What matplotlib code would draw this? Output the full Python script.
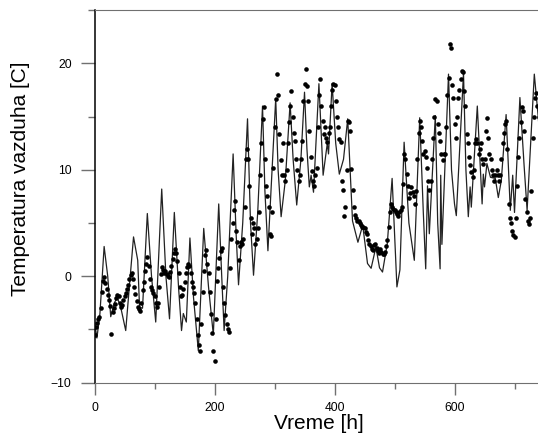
import numpy as np
import matplotlib
matplotlib.use("Agg")
import matplotlib.pyplot as plt
from matplotlib.ticker import MultipleLocator

plt.rcParams['font.family'] = ['Liberation Sans', 'DejaVu Sans']

# model curve (hour, temperature) read at turning points
line_hours = [0, 4, 9, 16, 22, 27, 33, 38, 44, 52, 58, 65, 72, 75, 80, 88, 95, 102,
              112, 119, 125, 133, 140, 145, 148, 153, 159, 165, 173, 182, 190, 198,
              207, 212, 216, 222, 231, 236, 240, 247, 255, 260, 265, 272, 280, 284,
              289, 295, 302, 306, 311, 318, 326, 331, 337, 344, 350, 354, 358, 361,
              365, 374, 379, 381, 388, 390, 396, 402, 408, 415, 422, 430, 439, 447,
              455, 461, 469, 475, 480, 488, 496, 504, 509, 516, 524, 533, 542, 548,
              552, 555, 558, 568, 572, 576, 577, 579, 590, 595, 600, 603, 615, 619,
              623, 626, 628, 638, 646, 648, 650, 654, 660, 668, 673, 678, 686, 693,
              697, 700, 709, 716, 721, 733, 739, 744]
line_temp = [-4.3, -5.8, -3.5, 2.8, 0.0, -3.8, -2.5, -2.0, -3.0, -5.1, -1.0, 3.7, 1.5, -2.9,
             -3.0, 5.9, 0.0, -4.3, 8.2, 0.0, -4.0, 6.0, -1.0, -5.1, -3.5, -4.3, 3.6, -2.0,
             -7.0, 4.5, -1.0, -5.5, 6.8, 0.0, -5.1, 0.0, 11.5, 4.0, -0.8, 5.0, 14.8, 5.0,
             0.1, 6.0, 16.0, 8.0, 2.4, 9.0, 16.7, 10.0, 5.6, 9.0, 16.3, 11.0, 6.7, 11.0,
             17.3, 12.0, 8.4, 9.5, 7.9, 18.1, 12.0, 9.5, 12.5, 11.5, 18.1, 12.5, 9.6,
             11.0, 14.8, 5.2, 3.2, 4.8, 1.2, 0.75, 2.75, 0.8, 0.4, 3.1, 9.2, -1.0, 0.6,
             12.6, 5.0, 1.5, 14.9, 6.0, 0.7, 8.5, 4.0, 15.1, 5.0, 0.7, 9.5, 3.0, 19.0,
             10.0, 6.8, 5.7, 19.1, 10.0, 5.6, 8.4, 6.5, 16.0, 6.8, 9.6, 8.4, 10.6, 9.3,
             9.2, 7.4, 9.0, 15.2, 6.2, 9.5, 6.0, 16.8, 10.4, 6.2, 19.0, 15.3, 12.0]

# measured temperatures, every 2 hours (one row per day)
meas_hours = np.arange(0, 744, 2)
meas_temp = [
    -5.5, -4.8, -4.4, -4.0, -3.8, -3.0, -1.5, -0.4, -0.1, -0.6, -1.2, -1.8,
    -2.2, -2.8, -5.4, -3.4, -3.0, -2.6, -2.0, -1.8, -1.9, -2.5, -2.9, -2.7,
    -2.2, -1.9, -1.6, -1.2, -0.8, -0.3, 0.1, 0.3, -0.3, -1.0, -1.7, -2.3,
    -2.9, -3.1, -3.3, -2.5, -1.3, -0.5, 0.5, 1.2, 1.8, 1.0, -0.3, -1.0,
    -1.3, -1.6, -1.9, -2.5, -2.9, -2.5, -1.0, 0.2, 0.9, 0.6, 0.3, 0.5,
    0.2, 0.0, -0.1, 0.4, 1.0, 1.6, 2.2, 2.6, 2.2, 1.4, 0.3, -1.0,
    -1.9, -1.8, -1.2, -0.5, 0.3, 0.9, 1.2, 1.0, 0.3, -0.5, -1.0, -1.6,
    -2.5, -4.0, -5.5, -6.5, -7.0, -4.5, -1.5, 0.5, 2.0, 2.5, 1.2, 0.3,
    -1.5, -3.5, -5.3, -7.0, -8.0, -4.0, -0.4, 0.8, 1.7, 2.4, 2.7, -1.0,
    -2.5, -3.6, -4.5, -5.0, -5.2, 0.8, 3.5, 5.0, 6.2, 7.1, 4.3, 3.2,
    1.5, 2.8, 3.2, 3.0, 3.5, 6.5, 11.0, 12.0, 11.0, 8.5, 5.5, 4.0,
    5.0, 4.5, 3.0, 3.5, 4.5, 6.0, 9.5, 12.5, 14.8, 15.9, 11.0, 8.5,
    7.5, 6.5, 4.0, 3.8, 6.0, 10.2, 14.0, 16.7, 19.0, 17.0, 13.4, 10.9,
    9.5, 12.5, 9.5, 9.0, 10.0, 12.5, 14.5, 16.0, 17.4, 15.0, 13.5, 12.7,
    11.0, 10.0, 9.0, 9.5, 11.0, 12.7, 16.5, 18.1, 19.5, 17.9, 16.5, 13.7,
    11.2, 9.9, 9.0, 8.5, 9.5, 10.2, 14.0, 17.0, 18.5, 16.0, 14.6, 13.4,
    14.0, 13.0, 12.6, 13.5, 14.0, 16.0, 17.5, 18.1, 18.0, 16.5, 15.0, 14.0,
    12.9, 12.6, 9.0, 8.1, 5.7, 6.5, 10.0, 14.6, 14.5, 13.7, 10.1, 8.1,
    6.5, 5.8, 5.5, 5.2, 5.2, 5.0, 4.8, 4.6, 4.6, 4.5, 4.2, 4.0,
    3.4, 3.0, 2.8, 2.6, 2.5, 2.9, 3.0, 2.7, 2.4, 2.2, 2.6, 2.3,
    2.1, 2.1, 2.3, 2.8, 3.4, 4.6, 6.0, 6.8, 6.5, 6.3, 6.2, 6.0,
    5.9, 5.7, 6.0, 6.2, 6.5, 8.7, 11.5, 11.0, 9.6, 8.5, 7.4, 7.8,
    8.4, 7.9, 7.5, 6.8, 8.0, 11.0, 13.5, 14.6, 14.0, 12.7, 11.5, 11.8,
    11.2, 10.2, 9.0, 8.1, 9.0, 11.0, 13.0, 15.0, 16.7, 16.5, 14.3, 13.5,
    12.7, 11.5, 10.9, 11.5, 11.5, 14.0, 17.0, 18.6, 21.8, 21.5, 18.0, 16.8,
    14.3, 13.0, 15.0, 16.8, 17.5, 18.5, 19.3, 19.2, 17.4, 16.0, 13.4, 12.5,
    11.2, 10.5, 9.8, 9.3, 10.0, 12.5, 12.9, 12.5, 11.5, 12.0, 12.5, 11.0,
    10.6, 11.0, 13.7, 14.9, 13.0, 11.5, 11.0, 10.0, 9.5, 9.0, 9.5, 10.0,
    9.5, 9.0, 9.5, 11.0, 12.5, 13.5, 14.3, 14.6, 12.0, 6.8, 5.5, 5.0,
    4.3, 3.9, 3.7, 5.5, 8.5, 11.2, 13.0, 14.5, 15.9, 15.5, 13.7, 7.3,
    6.0, 5.2, 4.9, 5.5, 8.0, 13.0, 15.0, 16.8, 17.2, 16.0, 15.0, 14.5,
]

fig = plt.figure(figsize=(5.38, 4.38), dpi=100)
ax = fig.add_axes([0.1757, 0.1263, 0.8297, 0.8502])

ax.plot(line_hours, line_temp, color='#222222', lw=0.9, zorder=2)
ax.plot(meas_hours, meas_temp, 'o', color='black', ms=3.3, mew=0, zorder=3)

ax.set_xlim(0, 744)
ax.set_ylim(-10, 25)
ax.xaxis.set_major_locator(MultipleLocator(200))
ax.xaxis.set_minor_locator(MultipleLocator(100))
ax.yaxis.set_major_locator(MultipleLocator(10))
ax.yaxis.set_minor_locator(MultipleLocator(5))

tick_gray = '#707070'
ax.tick_params(axis='x', which='major', length=8.6, width=1, color=tick_gray,
               labelsize=8.7, pad=5)
ax.tick_params(axis='x', which='minor', length=4.3, width=1, color=tick_gray)
ax.tick_params(axis='y', which='major', length=10, width=1, color=tick_gray,
               labelsize=8.7, pad=6.5)
ax.tick_params(axis='y', which='minor', length=5, width=1, color=tick_gray)

ax.spines['right'].set_visible(False)
ax.spines['left'].set_color('black')
ax.spines['left'].set_linewidth(1.1)
ax.spines['bottom'].set_color(tick_gray)
ax.spines['top'].set_color(tick_gray)

ax.set_xlabel("Vreme [h]", fontsize=15)
ax.set_ylabel("Temperatura vazduha [C]", fontsize=15)
ax.xaxis.set_label_coords(0.503, -0.084)
ax.yaxis.set_label_coords(-0.145, 0.547)

fig.savefig("out.png", dpi=100)
